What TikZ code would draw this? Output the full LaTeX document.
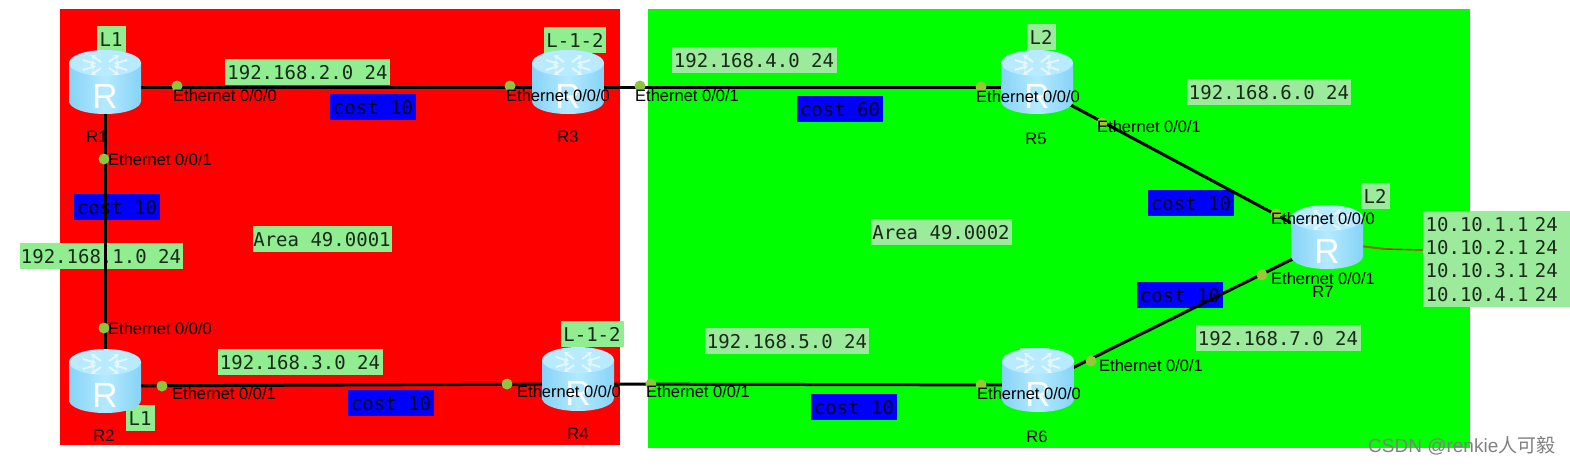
\documentclass[tikz,border=0pt]{standalone}
\usepackage{fontspec}
\setmainfont{Liberation Sans}
\newfontfamily\monof{DejaVu Sans Mono}
\newfontfamily\cjkf{Noto Sans CJK SC}
\usetikzlibrary{arrows.meta}
\definecolor{lbl}{HTML}{90EE90}
\definecolor{lblg}{HTML}{9CEB9C}
\definecolor{dotc}{HTML}{8CC63F}
\definecolor{dotg}{HTML}{9CC63A}
\definecolor{txtd}{HTML}{1A2A1A}
\definecolor{rside}{HTML}{86D3F7}
\definecolor{rmid}{HTML}{B4EAFF}
\definecolor{rtop}{HTML}{B8EBFF}
\definecolor{rarr}{HTML}{E6F8FF}
\definecolor{wirea}{HTML}{8A6A00}
\tikzset{
  lab/.style={fill=lbl,inner sep=0pt,minimum height=26pt,text=txtd,font=\monof\fontsize{19}{20}\selectfont,text height=14pt,text depth=0pt},
  labg/.style={lab,fill=lblg},
  cst/.style={fill=blue,inner sep=0pt,minimum width=86pt,minimum height=26pt,text=black!85!blue,font=\monof\fontsize{19}{20}\selectfont,text height=14pt,text depth=0pt},
  link/.style={line width=3pt,black},
  ifdot/.style={circle,fill=dotc,inner sep=0pt,minimum size=11pt},
  ifname/.style={anchor=west,inner sep=0pt,font=\fontsize{16.5}{18}\selectfont,text=black},
  rname/.style={inner sep=0pt,font=\fontsize{16.5}{18}\selectfont,text=black},
  rhook/.style={inner sep=0pt,minimum width=72pt,minimum height=64pt},
  rarrow/.style={rarr,line width=1.9pt,-{Stealth[length=5pt,width=6pt]}},
}
\newcommand{\rtr}[1]{%
  \begin{scope}[shift={(#1.center)},yshift=5pt]
    \shade[left color=rside,right color=rside,middle color=rmid]
      (-36,-19) -- (-36,19) .. controls (-36,26.5) and (-20,32) .. (0,32)
      .. controls (20,32) and (36,26.5) .. (36,19) -- (36,-19) -- cycle;
    \fill[rtop] (0,-19) ellipse [x radius=36pt,y radius=13pt];
    \foreach \s/\t in {1/1,1/-1,-1/1,-1/-1}{
      \draw[rarrow] (\s*4,{\t*3-17}) -- (\s*14,{\t*10-17});
      \draw[rarrow] (\s*22,{\t*5-17}) -- (\s*9,{\t*1-17});
    }
    \node[inner sep=0pt,text=white,font=\fontsize{35}{37}\selectfont] (#1R) at (0,14) {R};
  \end{scope}}
\begin{document}
\begin{tikzpicture}[x=1pt,y=-1pt]
\useasboundingbox (0,0) rectangle (1570,466);
\fill[white] (0,0) rectangle (1570,466);
\fill[red] (60,9) rectangle (620,445);
\fill[green] (648,9) rectangle (1470,448);

% hooks for routers (centre = where the links meet)
\node[rhook] (R1) at (105,87) {};
\node[rhook] (R3) at (568,87) {};
\node[rhook] (R5) at (1037,87) {};
\node[rhook] (R7) at (1327,242) {};
\node[rhook] (R2) at (105,386) {};
\node[rhook] (R4) at (578,384) {};
\node[rhook] (R6) at (1038,385) {};

% labels
\node[lab,minimum width=29pt] (tR1) at (111,39) {L1};
\node[lab,minimum width=165pt] (n2) at (307.5,72) {192.168.2.0 24};
\node[cst] (c13) at (373,107) {cost 10};
\node[cst] (c12) at (117,207) {cost 10};
\node[lab,minimum width=163pt] (n1) at (101,256) {192.168.1.0 24};
\node[lab,minimum width=139pt] (a1) at (322,239) {Area 49.0001};
\node[lab,minimum width=165pt] (n3) at (300,362) {192.168.3.0 24};
\node[cst] (c24) at (391,403) {cost 10};
\node[lab,minimum width=29pt] (tR2) at (140,418) {L1};
\node[lab,minimum width=62pt] (tR3) at (575,40) {L-1-2};
\node[lab,minimum width=63pt] (tR4) at (592,334) {L-1-2};
\node[labg,minimum width=165pt] (n4) at (754,60) {192.168.4.0 24};
\node[cst] (c35) at (840,109) {cost 60};
\node[labg,minimum width=29pt] (tR5) at (1041,37) {L2};
\node[labg,minimum width=164pt] (n6) at (1269,92) {192.168.6.0 24};
\node[cst] (c57) at (1191,203) {cost 10};
\node[labg,minimum width=141pt] (a2) at (941,232) {Area 49.0002};
\node[labg,minimum width=29pt] (tR7) at (1375,196) {L2};
\node[cst] (c67) at (1180,295) {cost 10};
\node[labg,minimum width=165pt] (n7) at (1278,338) {192.168.7.0 24};
\node[labg,minimum width=164pt] (n5) at (787,341) {192.168.5.0 24};
\node[labg,minimum width=29pt] (tR6) at (1034,361) {L2};
\node[cst] (c46) at (854,407) {cost 10};
\node[fill=lblg,anchor=north west,inner sep=0pt,minimum width=147pt,minimum height=96pt,align=left,text=txtd,
      font=\monof\fontsize{19}{23.4}\selectfont,text width=146pt] (ips) at (1423,211)
      {\hspace*{2pt}10.10.1.1 24\\\hspace*{2pt}10.10.2.1 24\\\hspace*{2pt}10.10.3.1 24\\\hspace*{2pt}10.10.4.1 24};
\coordinate (ipsin) at (ips.west|-0,250);
\coordinate (wirebend) at (1385,249);

% links
\draw[link] (R1.center) -- (R3.center);
\draw[link] (R3.center) -- (R5.center);
\draw[link] (R1.center) -- (R2.center);
\draw[link] (R2.center) -- (R4.center);
\draw[link] (R4.center) -- (R6.center);
\draw[link] (R5.center) -- (R7.center);
\draw[link] (R6.center) -- (R7.center);
\draw[line width=1.4pt,red] (wirebend) -- (ipsin);
\draw[line width=2pt,wirea] (R7.center) -- (wirebend);

% routers
\rtr{R1}\rtr{R3}\rtr{R5}\rtr{R7}\rtr{R2}\rtr{R4}\rtr{R6}

% router names
\node[rname] (nR1) at (97,137) {R1};
\node[rname] (nR3) at (568,137) {R3};
\node[rname] (nR5) at (1036,139) {R5};
\node[rname] (nR7) at (1323,292) {R7};
\node[rname] (nR2) at (104,436) {R2};
\node[rname] (nR4) at (578,434) {R4};
\node[rname] (nR6) at (1037,437) {R6};

% interface dots
\node[ifdot] (d1) at (177,86) {};
\node[ifdot] (d2) at (510,86) {};
\node[ifdot] (d3) at (640,86) {};
\node[ifdot,fill=dotg] (d4) at (981,87) {};
\node[ifdot,fill=dotg] (d5) at (1102,123) {};
\node[ifdot,fill=dotg] (d6) at (1276,214) {};
\node[ifdot,fill=dotg] (d7) at (1262,275) {};
\node[ifdot,fill=dotg] (d8) at (1091,361) {};
\node[ifdot,fill=dotg] (d9) at (981,385) {};
\node[ifdot] (d10) at (651,384) {};
\node[ifdot] (d11) at (507,384) {};
\node[ifdot] (d12) at (162,386) {};
\node[ifdot] (d13) at (104,328) {};
\node[ifdot] (d14) at (104,159) {};

% interface names
\node[ifname] (e1) at (173,96) {Ethernet 0/0/0};
\node[ifname] (e2) at (506,96) {Ethernet 0/0/0};
\node[ifname] (e3) at (635,96) {Ethernet 0/0/1};
\node[ifname] (e4) at (976,97) {Ethernet 0/0/0};
\node[ifname] (e5) at (1097,127) {Ethernet 0/0/1};
\node[ifname] (e6) at (1271,219) {Ethernet 0/0/0};
\node[ifname] (e7) at (1271,279) {Ethernet 0/0/1};
\node[ifname] (e8) at (1099,366) {Ethernet 0/0/1};
\node[ifname] (e9) at (977,394) {Ethernet 0/0/0};
\node[ifname] (e10) at (646,392) {Ethernet 0/0/1};
\node[ifname] (e11) at (517,392) {Ethernet 0/0/0};
\node[ifname] (e12) at (172,394) {Ethernet 0/0/1};
\node[ifname] (e13) at (108,329) {Ethernet 0/0/0};
\node[ifname] (e14) at (108,160) {Ethernet 0/0/1};

% watermark
\node[anchor=west,inner sep=0pt,text=black!50,font=\fontsize{19}{21}\selectfont] (wm) at (1368,446) {CSDN @renkie{\cjkf 人可毅}};
\end{tikzpicture}
\end{document}
